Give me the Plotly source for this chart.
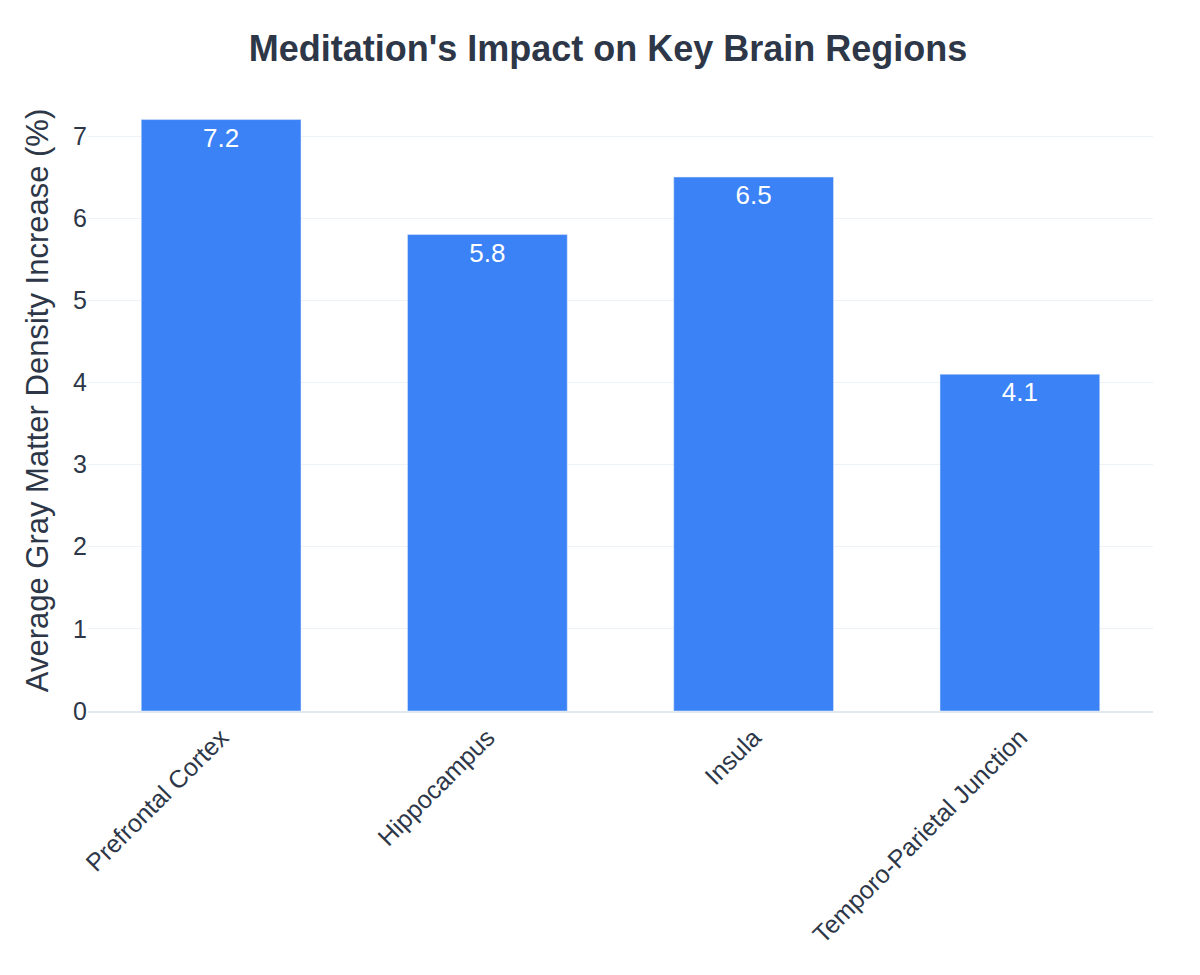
import plotly.graph_objects as go

regions = ["Prefrontal Cortex", "Hippocampus", "Insula", "Temporo-Parietal Junction"]
increase = [7.2, 5.8, 6.5, 4.1]

fig = go.Figure(go.Bar(
    x=regions, y=increase, text=[f"{v}" for v in increase],
    textposition="inside", insidetextanchor="end",
    textfont=dict(color="white", size=26, family="Liberation Sans, Arial"),
    marker=dict(color="#3b82f6"),
))
fig.update_layout(
    width=1200, height=975,
    title=dict(text="<b>Meditation's Impact on Key Brain Regions</b>", x=0.5, xanchor="center",
               y=0.972, font=dict(size=36, color="#2d3748", family="Liberation Sans, Arial")),
    font=dict(family="Liberation Sans, Arial", color="#2d3748"),
    plot_bgcolor="white", paper_bgcolor="white",
    margin=dict(l=80, r=55, t=82, b=272),
    bargap=0.4,
    xaxis=dict(tickangle=-45, tickfont=dict(size=25), showline=True, linecolor="#e2e8f0", linewidth=2),
    yaxis=dict(title=dict(text="Average Gray Matter Density Increase (%)", font=dict(size=31)),
               range=[0, 7.56], dtick=1, tickfont=dict(size=25), gridcolor="#edf2f7", zeroline=False),
)
fig.write_html("out.html")
